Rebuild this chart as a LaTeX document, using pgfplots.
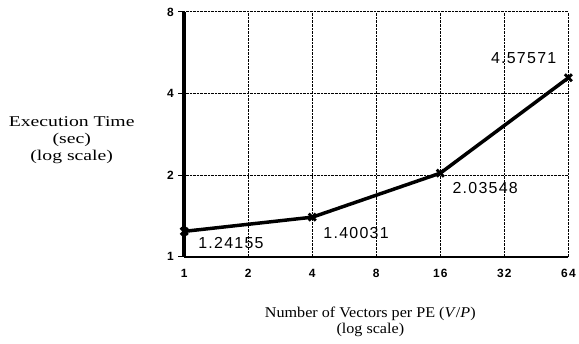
\documentclass[border=0pt]{standalone}
\usepackage{fontspec}
\setmainfont{Liberation Serif}
\newfontfamily\ylabfont[FakeStretch=1.32]{Liberation Serif}
\newfontfamily\xlabfont[FakeStretch=1.08]{Liberation Serif}
\newfontfamily\numfont[LetterSpace=8]{Liberation Sans}
\newfontfamily\tickfont[LetterSpace=10]{Liberation Sans}
\usepackage{pgfplots}
\pgfplotsset{compat=1.18}
\begin{document}
\begin{tikzpicture}
\begin{axis}[
  scale only axis, width=386pt, height=246pt,
  xmode=log, ymode=log, log basis x=2, log basis y=2,
  xmin=1, xmax=64, ymin=1, ymax=8,
  xtick={1,2,4,8,16,32,64}, xticklabels={1,2,4,8,16,32,64},
  ytick={1,2,4,8}, yticklabels={1,2,4,8},
  axis x line*=bottom, axis y line*=left,
  x axis line style={-, line width=2.5pt},
  y axis line style={-, line width=3.5pt},
  grid=major, grid style={densely dotted, black, line width=0.9pt},
  tick align=outside, major tick length=6pt,
  xtick style={draw=none}, ytick style={black, line width=0.9pt},
  tick label style={font=\tickfont\bfseries\fontsize{12}{14}\selectfont},
  xticklabel style={yshift=-3pt},
  yticklabel style={xshift=-1pt},
  clip=false,
]
\addplot[black, line width=3.5pt, mark=x, mark size=5pt, mark options={line width=2.8pt}]
  coordinates {(1,1.24155) (4,1.40031) (16,2.03548) (64,4.57571)};
\coordinate (O) at (rel axis cs:0,0);
\begin{scope}[every node/.style={font=\numfont\fontsize{16}{19}\selectfont}]
\node at (axis cs:1,1.24155) [xshift=47pt, yshift=-12pt] {1.24155};
\node at (axis cs:4,1.40031) [xshift=44pt, yshift=-16pt] {1.40031};
\node at (axis cs:16,2.03548) [xshift=45pt, yshift=-15pt] {2.03548};
\node at (axis cs:64,4.57571) [xshift=-45pt, yshift=20pt] {4.57571};
\end{scope}
\node[align=center, font=\ylabfont\fontsize{15}{17}\selectfont] at (rel axis cs:0,0) [xshift=-113pt, yshift=117pt]
  {Execution Time\\(sec)\\(log scale)};
\node[align=center, font=\xlabfont\fontsize{15}{16}\selectfont] at (rel axis cs:0,0) [xshift=187pt, yshift=-65pt]
  {Number of Vectors per PE (\textit{V}/\textit{P})\\(log scale)};
\end{axis}
\path (O) ++(-185pt,-87pt) rectangle ++(579pt,345pt);
\end{tikzpicture}
\end{document}
